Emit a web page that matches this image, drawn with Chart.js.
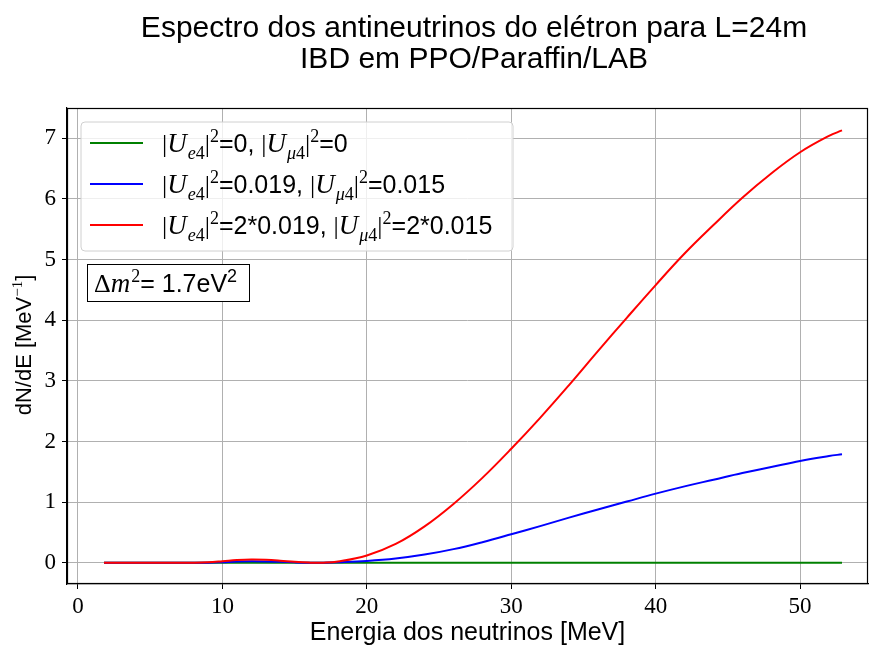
<!DOCTYPE html>
<html>
<head>
<meta charset="utf-8">
<script src="https://cdn.jsdelivr.net/npm/chart.js@4/dist/chart.umd.min.js"></script>
<style>
  html, body { margin: 0; padding: 0; background: #fff; }
</style>
</head>
<body>
<canvas id="spectrum" width="869" height="648"></canvas>
<script>
// Neutrino energy grid (MeV)
const energy = [1.8, 4, 6, 8, 9, 10, 11, 12, 13, 14, 15, 16, 17, 18, 20,
                22, 24, 26, 28, 30, 32, 34, 36, 38, 40, 42, 44, 46, 48, 50, 52, 52.9];

// dN/dE for each mixing scenario
const noMixing = [0, 0, 0, 0, 0, 0, 0, 0, 0, 0, 0, 0, 0, 0, 0,
                  0, 0, 0, 0, 0, 0, 0, 0, 0, 0, 0, 0, 0, 0, 0, 0, 0];
const singleMixing = [0, 0, 0, 0, 0.002, 0.01, 0.02, 0.025, 0.022, 0.015, 0.007, 0.002, 0.002, 0.008, 0.03,
                      0.07, 0.135, 0.225, 0.34, 0.47, 0.605, 0.745, 0.88, 1.01, 1.14, 1.26, 1.37, 1.48, 1.58, 1.68, 1.76, 1.79];
const doubleMixing = [0, 0, 0, 0.002, 0.008, 0.025, 0.045, 0.055, 0.05, 0.035, 0.015, 0.003, 0.002, 0.02, 0.12,
                      0.31, 0.60, 0.97, 1.40, 1.88, 2.39, 2.93, 3.49, 4.04, 4.58, 5.10, 5.57, 6.02, 6.42, 6.77, 7.04, 7.13];

// Legend values for |U_e4|^2 and |U_mu4|^2
const ue4Values = ['0', '0.019', '2*0.019'];
const umu4Values = ['0', '0.015', '2*0.015'];
const seriesColors = ['#008000', '#0000ff', '#ff0000'];

const titleLines = ['Espectro dos antineutrinos do elétron para L=24m', 'IBD em PPO/Paraffin/LAB'];

const SERIF = '"Liberation Serif", "DejaVu Serif", serif';
const SANS = '"Liberation Sans", Arial, sans-serif';

function toPoints(ys) {
    return energy.map((x, i) => ({ x: x, y: ys[i] }));
}

function pieceFont(kind, size) {
    const small = Math.round(size * 0.7);
    switch (kind) {
        case 'r': return [`${size + 1}px ${SERIF}`, 0];
        case 'i': return [`italic ${size + 2}px ${SERIF}`, 0];
        case 'bi': return [`italic ${small}px ${SERIF}`, size * 0.28];
        case 'br': return [`${small}px ${SERIF}`, size * 0.28];
        case 'p': return [`${small}px ${SERIF}`, -size * 0.42];
        case 'ps': return [`${small}px ${SANS}`, -size * 0.42];
        default: return [`${size}px ${SANS}`, 0];
    }
}

function richWidth(ctx, parts, size) {
    return parts.reduce((w, [txt, kind]) => {
        ctx.font = pieceFont(kind, size)[0];
        return w + ctx.measureText(txt).width;
    }, 0);
}

// Draws a run of mixed math / plain text pieces, left to right
function drawRich(ctx, x, y, parts, size) {
    parts.forEach(([txt, kind]) => {
        const [font, dy] = pieceFont(kind, size);
        ctx.font = font;
        ctx.fillText(txt, x, y + dy);
        x += ctx.measureText(txt).width + (kind === 'i' ? 1 : 0);
    });
}

function mixingLabel(ue, umu) {
    return [['|', 'r'], ['U', 'i'], ['e', 'bi'], ['4', 'br'], ['|', 'r'], ['2', 'p'], ['=' + ue + ', ', 's'],
            ['|', 'r'], ['U', 'i'], ['μ', 'bi'], ['4', 'br'], ['|', 'r'], ['2', 'p'], ['=' + umu, 's']];
}

function roundRect(ctx, x, y, w, h, r) {
    ctx.beginPath();
    ctx.moveTo(x + r, y);
    ctx.arcTo(x + w, y, x + w, y + h, r);
    ctx.arcTo(x + w, y + h, x, y + h, r);
    ctx.arcTo(x, y + h, x, y, r);
    ctx.arcTo(x, y, x + w, y, r);
    ctx.closePath();
}

const decorPlugin = {
    id: 'decor',
    afterDatasetsDraw(chart) {
        const ctx = chart.ctx;
        const area = chart.chartArea;
        ctx.save();

        // top and right spines
        ctx.strokeStyle = '#000';
        ctx.lineWidth = 1.2;
        ctx.strokeRect(Math.round(area.left) + 0.5, Math.round(area.top) + 0.5,
                       Math.round(area.right - area.left) - 1, Math.round(area.bottom - area.top) - 1);

        // title
        ctx.fillStyle = '#000';
        ctx.textAlign = 'center';
        ctx.textBaseline = 'middle';
        ctx.font = `30px ${SANS}`;
        ctx.fillText(titleLines[0], 474, 29);
        ctx.fillText(titleLines[1], 474, 60);

        // y axis label, rotated
        ctx.textAlign = 'left';
        ctx.textBaseline = 'alphabetic';
        const yLabel = [['dN/dE [MeV', 's'], ['−1', 'p'], [']', 's']];
        ctx.save();
        ctx.translate(31, 345);
        ctx.rotate(-Math.PI / 2);
        drawRich(ctx, -richWidth(ctx, yLabel, 22) / 2, 0, yLabel, 22);
        ctx.restore();

        // legend
        const lx = 81, ly = 122, lw = 432, lh = 129;
        roundRect(ctx, lx, ly, lw, lh, 4);
        ctx.fillStyle = 'rgba(255,255,255,0.8)';
        ctx.fill();
        ctx.strokeStyle = '#d0d0d0';
        ctx.lineWidth = 1;
        ctx.stroke();

        chart.data.datasets.slice().sort((a, b) => a.legendIndex - b.legendIndex).forEach((ds, i) => {
            const rowY = 143 + i * 41;
            ctx.strokeStyle = ds.borderColor;
            ctx.lineWidth = 2;
            ctx.beginPath();
            ctx.moveTo(90, rowY);
            ctx.lineTo(143, rowY);
            ctx.stroke();
            ctx.fillStyle = '#000';
            drawRich(ctx, 162, rowY + 9, mixingLabel(ue4Values[i], umu4Values[i]), 25);
        });

        // mass splitting box
        ctx.fillStyle = '#fff';
        ctx.fillRect(87, 264, 162, 37);
        ctx.strokeStyle = '#000';
        ctx.lineWidth = 1;
        ctx.strokeRect(87.5, 264.5, 162, 37);
        ctx.fillStyle = '#000';
        drawRich(ctx, 94, 292, [['Δ', 'r'], ['m', 'i'], ['2', 'p'], ['= 1.7eV', 's'], ['2', 'ps']], 25);

        ctx.restore();
    }
};

const datasets = [
    { label: '|Ue4|²=2*0.019, |Uμ4|²=2*0.015', data: toPoints(doubleMixing), borderColor: seriesColors[2], order: 0, legendIndex: 2 },
    { label: '|Ue4|²=0.019, |Uμ4|²=0.015', data: toPoints(singleMixing), borderColor: seriesColors[1], order: 1, legendIndex: 1 },
    { label: '|Ue4|²=0, |Uμ4|²=0', data: toPoints(noMixing), borderColor: seriesColors[0], order: 2, legendIndex: 0 }
].map(ds => Object.assign(ds, {
    borderWidth: 2,
    pointRadius: 0,
    fill: false,
    tension: 0.4
}));

new Chart(document.getElementById('spectrum').getContext('2d'), {
    type: 'line',
    data: { datasets: datasets },
    options: {
        responsive: false,
        animation: false,
        devicePixelRatio: 1,
        layout: { padding: { top: 108, right: 1, left: 0, bottom: 0 } },
        plugins: {
            legend: { display: false },
            tooltip: { enabled: false },
            title: { display: false }
        },
        scales: {
            x: {
                type: 'linear',
                min: -0.76,
                max: 54.7,
                afterFit: scale => { scale.height = 64; },
                ticks: {
                    stepSize: 10,
                    includeBounds: false,
                    color: '#000',
                    padding: 4,
                    maxRotation: 0,
                    font: { family: SERIF, size: 23 }
                },
                grid: { color: '#b0b0b0', lineWidth: 1, tickColor: '#000', tickLength: 5 },
                border: { color: '#000', width: 1.2 },
                title: {
                    display: true,
                    text: 'Energia dos neutrinos [MeV]',
                    color: '#000',
                    font: { family: SANS, size: 25 },
                    padding: { top: 0, bottom: 0 }
                }
            },
            y: {
                min: -0.35,
                max: 7.5,
                afterFit: scale => { scale.width = 67; },
                ticks: {
                    stepSize: 1,
                    includeBounds: false,
                    color: '#000',
                    padding: 6,
                    font: { family: SERIF, size: 23 }
                },
                grid: { color: '#b0b0b0', lineWidth: 1, tickColor: '#000', tickLength: 5 },
                border: { color: '#000', width: 1.2 }
            }
        }
    },
    plugins: [decorPlugin]
});
</script>
</body>
</html>
